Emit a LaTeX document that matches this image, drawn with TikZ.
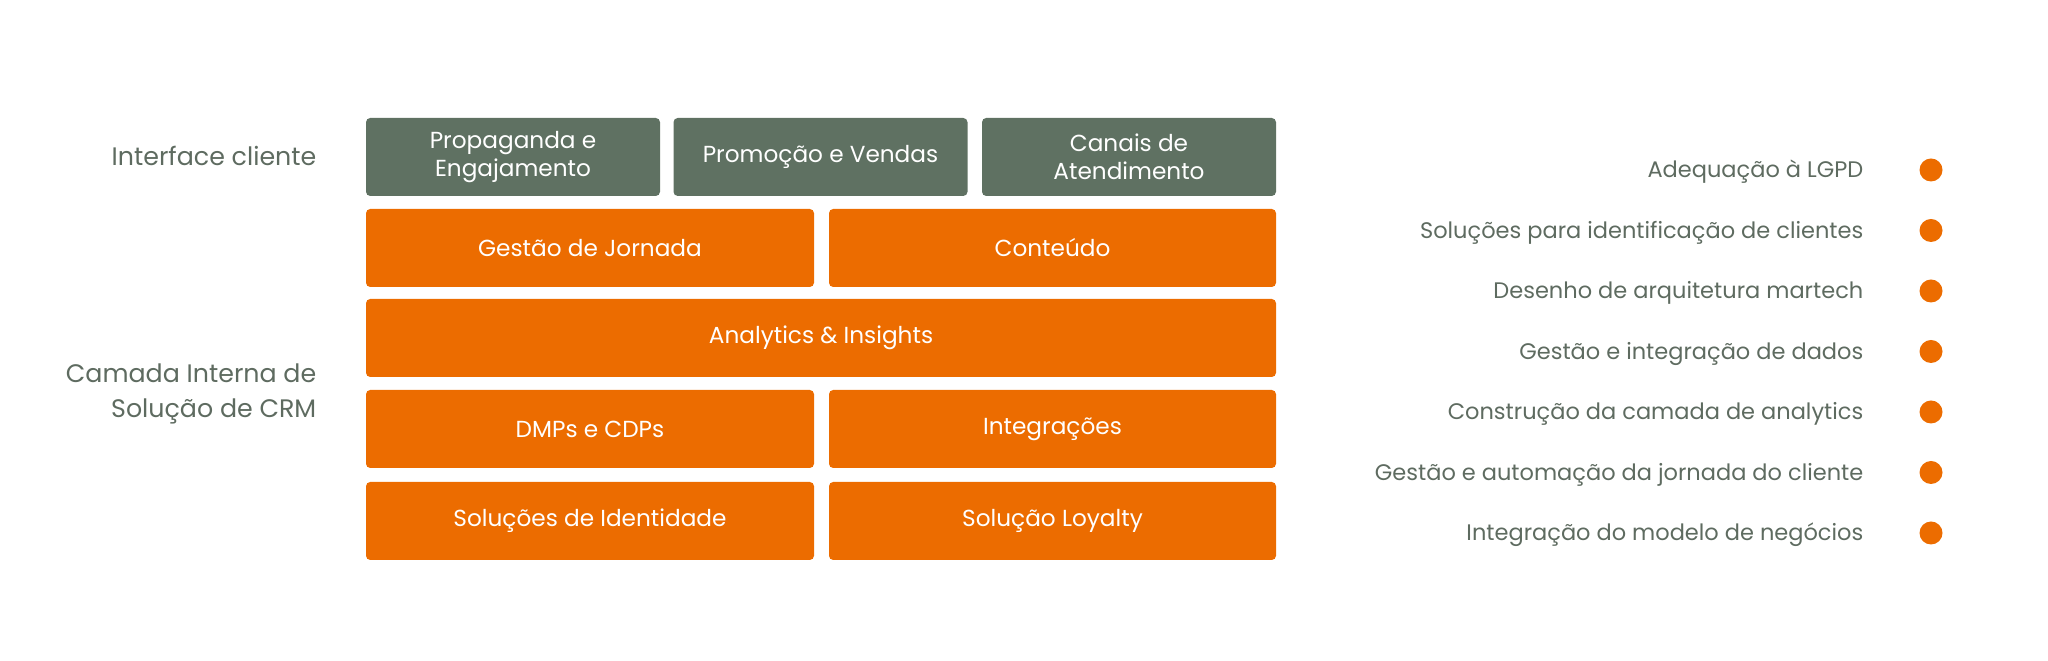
\documentclass[tikz,border=0pt]{standalone}
\usepackage{fontspec}
\setmainfont{Poppins}
\definecolor{crmgray}{HTML}{5F7162}
\definecolor{crmtext}{HTML}{5E6B60}
\definecolor{crmorange}{HTML}{EC6C00}

\begin{document}
\begin{tikzpicture}[
    layer/.style={fill=crmorange, rounded corners=1.2pt, minimum height=0.78cm,
                  text=white, font=\fontsize{6.6}{8}\selectfont, align=center, inner sep=0pt},
    front/.style={layer, fill=crmgray},
    side/.style={text=crmtext, font=\fontsize{7.2}{10}\selectfont, align=right, anchor=east, inner sep=0pt},
    item/.style={text=crmtext, font=\fontsize{6.4}{8}\selectfont, anchor=east, inner sep=0pt},
    dot/.style={circle, fill=crmorange, minimum size=0.23cm, inner sep=0pt}
  ]
    \useasboundingbox (0,0) rectangle (20.48,6.61);

    % labels on the left
    \node[side] (iface) at (3.17,5.05) {Interface cliente};
    \node[side] (inner) at (3.17,2.67) {Camada Interna de\\Solução de CRM};

    % customer interface
    \node[front, minimum width=2.94cm] (prop) at (5.13,5.04) {Propaganda e\\Engajamento};
    \node[front, minimum width=2.94cm] (promo) at (8.205,5.04) {Promoção e Vendas};
    \node[front, minimum width=2.94cm] (canais) at (11.29,5.04) {Canais de\\Atendimento};

    % inner layer
    \node[layer, minimum width=4.48cm] (jornada) at (5.90,4.13) {Gestão de Jornada};
    \node[layer, minimum width=4.47cm] (conteudo) at (10.525,4.13) {Conteúdo};
    \node[layer, minimum width=9.10cm] (analytics) at (8.21,3.23) {Analytics \& Insights};
    \node[layer, minimum width=4.48cm] (dmp) at (5.90,2.32) {DMPs e CDPs};
    \node[layer, minimum width=4.47cm] (integ) at (10.525,2.32) {Integrações};
    \node[layer, minimum width=4.48cm] (ident) at (5.90,1.40) {Soluções de Identidade};
    \node[layer, minimum width=4.47cm] (loyalty) at (10.525,1.40) {Solução Loyalty};

    % list on the right
    \foreach \y/\t [count=\i] in {4.91/Adequação à LGPD,
        4.305/Soluções para identificação de clientes,
        3.70/Desenho de arquitetura martech,
        3.095/Gestão e integração de dados,
        2.49/Construção da camada de analytics,
        1.885/Gestão e automação da jornada do cliente,
        1.28/Integração do modelo de negócios}{
      \node[item] (item\i) at (18.64,\y-0.02) {\t};
      \node[dot] (dot\i) at (19.31,\y) {};
    }
\end{tikzpicture}
\end{document}
